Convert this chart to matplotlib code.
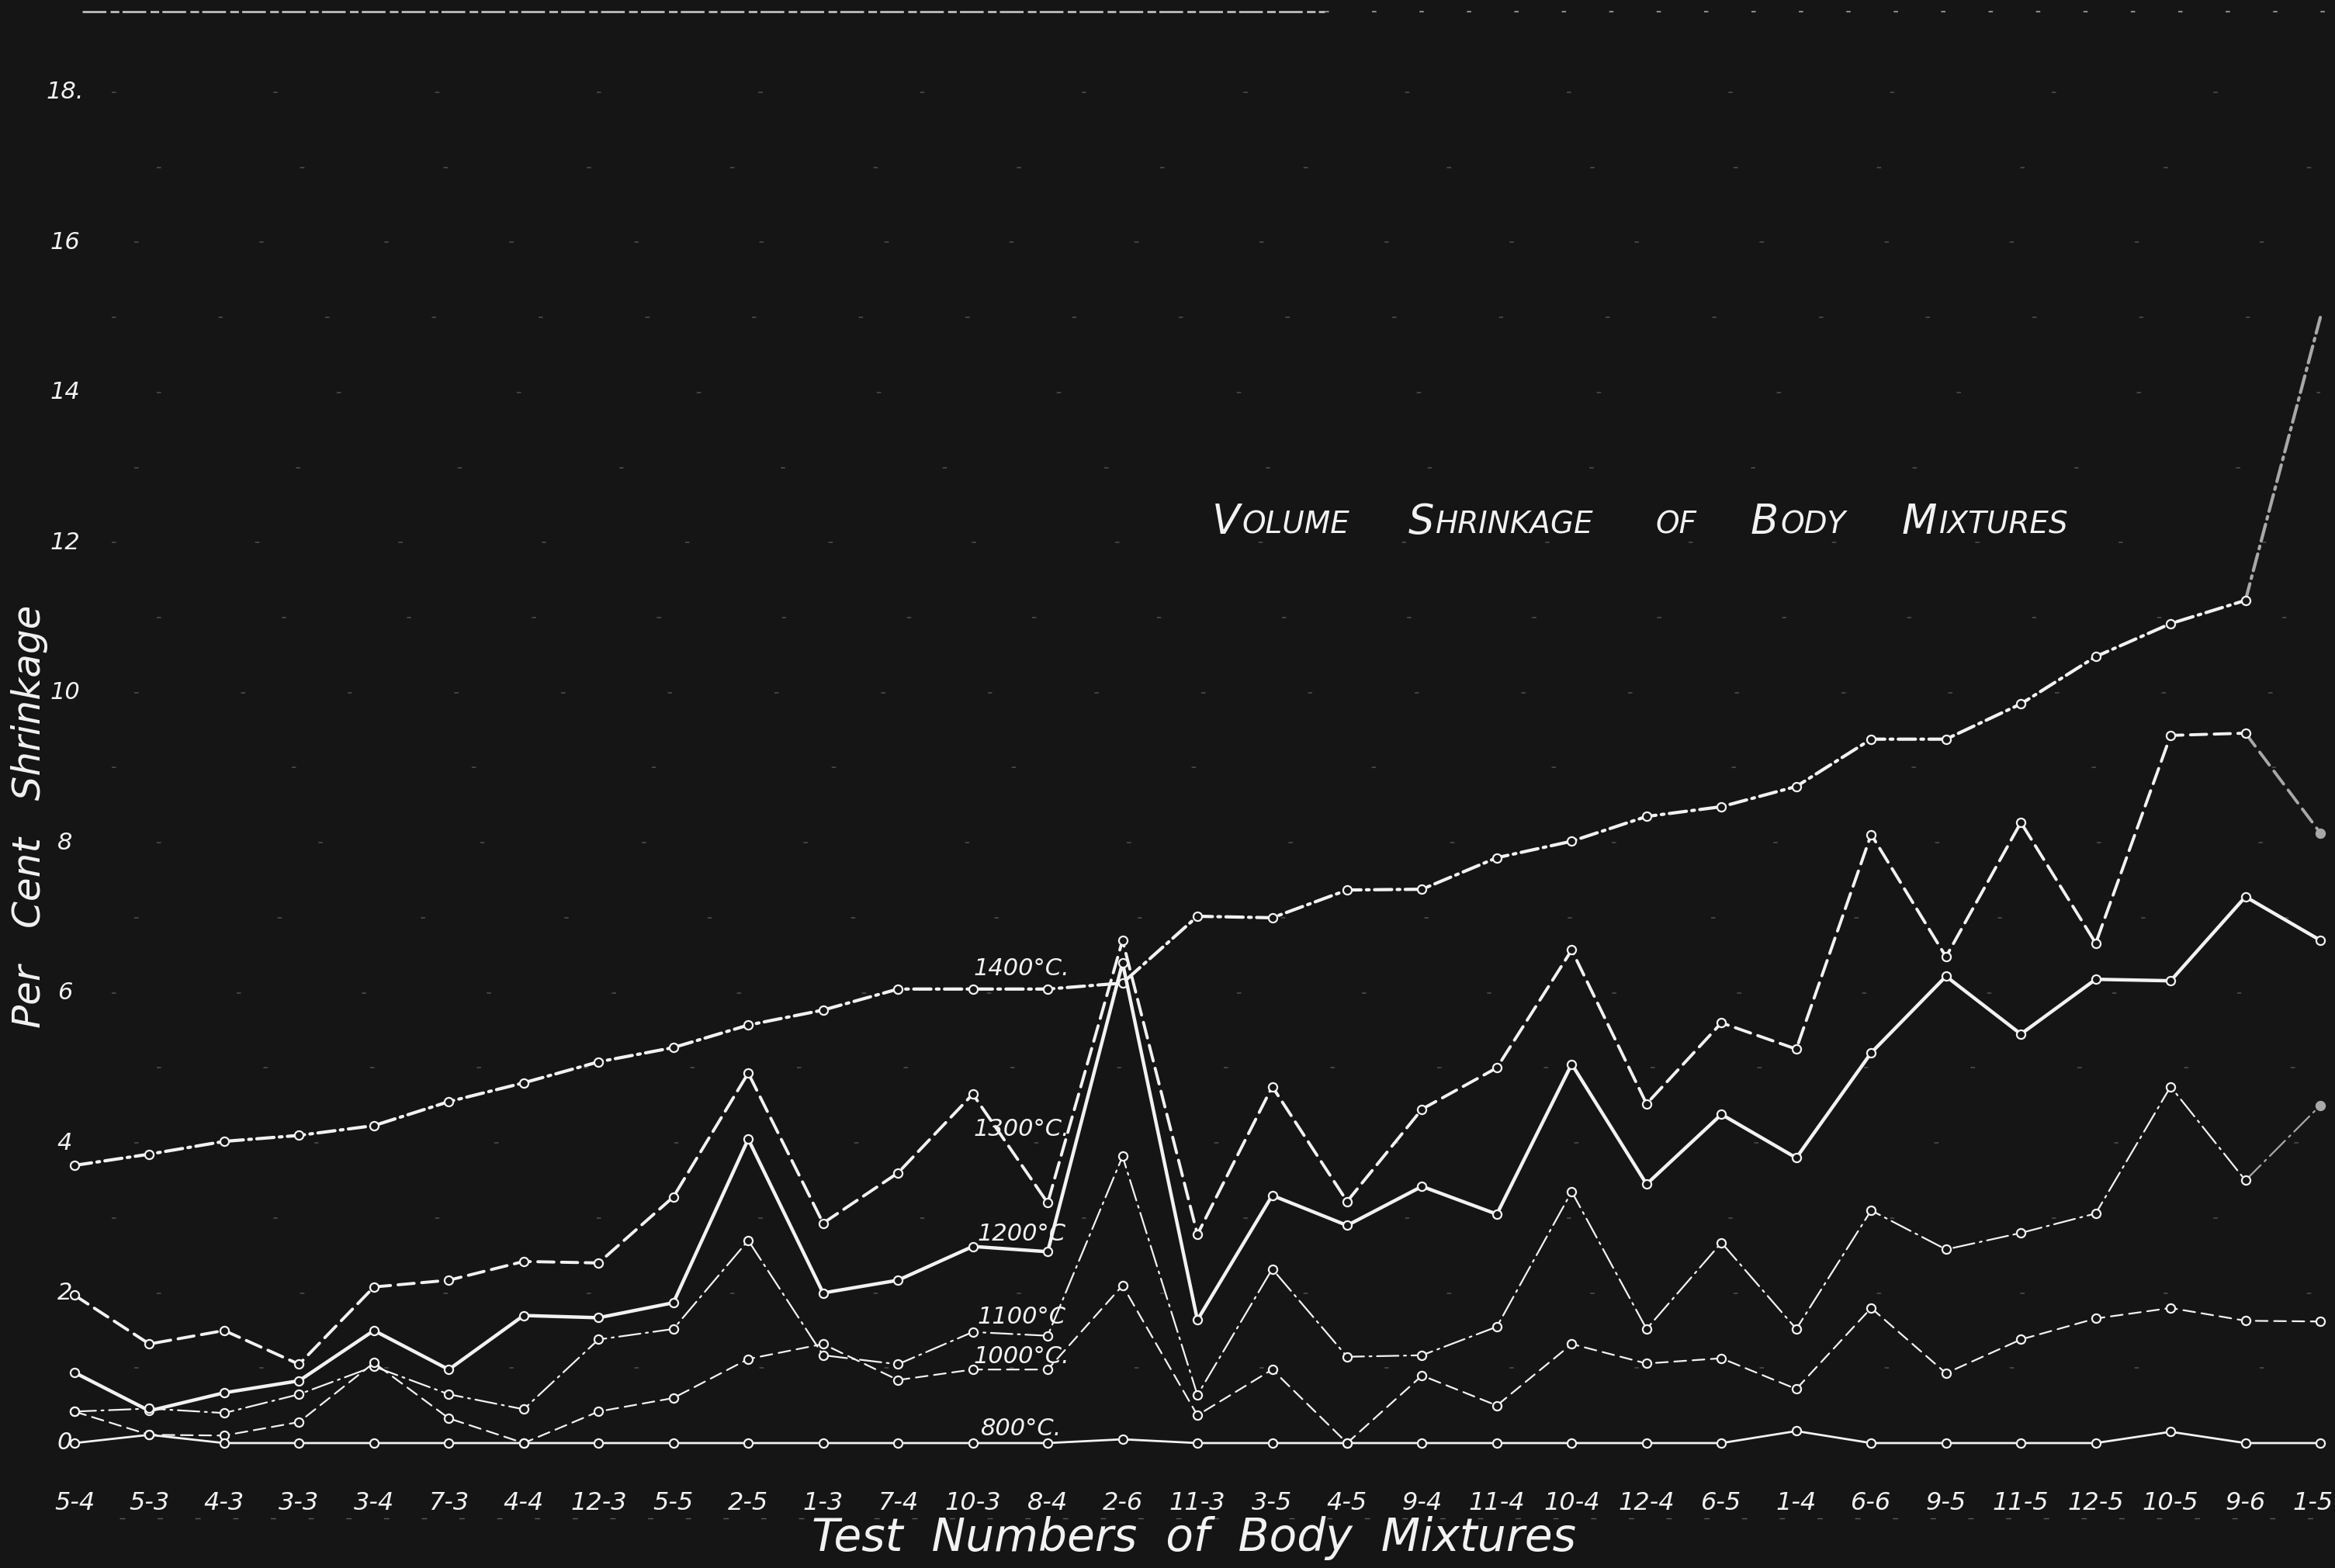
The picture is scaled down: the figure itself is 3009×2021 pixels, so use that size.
import numpy as np
import matplotlib
matplotlib.use('Agg')
import matplotlib.pyplot as plt

plt.rcParams['lines.scale_dashes'] = False

BG = '#151515'
FG = '#f2f2f2'
DIM = '#a8a8a8'

MIXES = ['5-4', '5-3', '4-3', '3-3', '3-4', '7-3', '4-4', '12-3', '5-5', '2-5',
         '1-3', '7-4', '10-3', '8-4', '2-6', '11-3', '3-5', '4-5', '9-4', '11-4',
         '10-4', '12-4', '6-5', '1-4', '6-6', '9-5', '11-5', '12-5', '10-5', '9-6', '1-5']

# per cent volume shrinkage at each firing temperature
S1400 = [3.70, 3.85, 4.02, 4.10, 4.23, 4.55, 4.80, 5.08, 5.27, 5.57, 5.77, 6.05, 6.05, 6.05, 6.13,
         7.02, 7.00, 7.37, 7.38, 7.80, 8.02, 8.35, 8.48, 8.75, 9.38, 9.38, 9.85, 10.48, 10.92, 11.23, 15.0]
S1300 = [1.97, 1.32, 1.50, 1.05, 2.08, 2.17, 2.42, 2.40, 3.28, 4.93, 2.93, 3.60, 4.65, 3.20, 6.70,
         2.78, 4.75, 3.22, 4.45, 5.00, 6.57, 4.52, 5.60, 5.25, 8.11, 6.48, 8.27, 6.66, 9.43, 9.46, 8.13]
S1200 = [0.94, 0.43, 0.67, 0.83, 1.50, 0.98, 1.70, 1.67, 1.87, 4.05, 2.00, 2.17, 2.62, 2.55, 6.40,
         1.64, 3.30, 2.90, 3.42, 3.05, 5.05, 3.45, 4.38, 3.80, 5.20, 6.22, 5.45, 6.18, 6.16, 7.28, 6.70]
S1100 = [0.42, 0.46, 0.40, 0.65, 1.02, 0.65, 0.45, 1.38, 1.52, 2.70, 1.17, 1.05, 1.48, 1.43, 3.82,
         0.64, 2.32, 1.15, 1.17, 1.55, 3.35, 1.52, 2.67, 1.52, 3.10, 2.58, 2.80, 3.06, 4.75, 3.50, 4.50]
S1000 = [0.42, 0.11, 0.10, 0.28, 1.07, 0.33, 0.00, 0.42, 0.60, 1.12, 1.32, 0.84, 0.98, 0.98, 2.10,
         0.37, 0.98, 0.00, 0.90, 0.50, 1.32, 1.06, 1.13, 0.72, 1.80, 0.93, 1.38, 1.66, 1.80, 1.63, 1.62]
S800 = [0.00, 0.11, 0.00, 0.00, 0.00, 0.00, 0.00, 0.00, 0.00, 0.00, 0.00, 0.00, 0.00, 0.00, 0.05,
        0.00, 0.00, 0.00, 0.00, 0.00, 0.00, 0.00, 0.00, 0.16, 0.00, 0.00, 0.00, 0.00, 0.15, 0.00, 0.00]

YTICKS = [0, 2, 4, 6, 8, 10, 12, 14, 16, 18]

# series label text, label height, line style
SERIES = [
    (S1400, '1400°C.', 6.17, dict(lw=3.0, dashes=(16, 5, 2.5, 5))),
    (S1300, '1300°C.', 4.03, dict(lw=2.8, dashes=(15, 7))),
    (S1200, '1200°C', 2.64, dict(lw=3.2)),
    (S1100, '1100°C', 1.53, dict(lw=1.6, dashes=(20, 5, 2, 5))),
    (S1000, '1000°C.', 1.0, dict(lw=1.6, dashes=(11, 6))),
    (S800, '800°C.', 0.04, dict(lw=2.0)),
]
# last segment of these looks faded on the sheet
FADED = {'1400°C.', '1300°C.', '1100°C'}

HAND = dict(family='DejaVu Sans', style='italic', color=FG)

fig = plt.figure(figsize=(30.09, 20.21), dpi=100, facecolor=BG)
ax = fig.add_axes([0, 0, 1, 1])
ax.set_facecolor(BG)
ax.set_xlim(-0.995, 30.196)
ax.set_ylim(-1.665, 19.23)
ax.axis('off')

x = np.arange(len(MIXES))

# remains of the ruled grid
for v in range(1, 19):
    ax.plot([0.5 + 0.3 * (v % 3), 30], [v, v], color='#4c4c4c', lw=1.2,
            dashes=(4, 95 + 17 * (v % 5)), zorder=1)
ax.plot([0.1, 16.7], [19.08, 19.08], color='#bdbdbd', lw=2.0, dashes=(22, 4, 8, 3), zorder=1)
ax.plot([16.7, 30.2], [19.08, 19.08], color='#8a8a8a', lw=1.5, dashes=(4, 40), zorder=1)
ax.plot([0.6, 30.2], [-1.0, -1.0], color='#5a5a5a', lw=1.0, dashes=(5, 30), zorder=1)

for vals, name, ly, style in SERIES:
    v = np.asarray(vals)
    n = len(v) - 1 if name in FADED else len(v)
    ax.plot(x[:n], v[:n], color=FG, solid_capstyle='round', dash_capstyle='round',
            marker='o', ms=8, mfc=BG, mec=FG, mew=1.6, zorder=3, **style)
    if name in FADED:
        ax.plot(x[-2:], v[-2:], color=DIM, dash_capstyle='round', zorder=2, **style)
        if name != '1400°C.':
            ax.plot(x[-1], v[-1], 'o', ms=8, mfc=DIM, mec=DIM, mew=1.6, zorder=3)
    ax.text(12.65, ly, name, fontsize=22, ha='center', va='bottom', zorder=4, **HAND)

# hand lettered axis numbers
for v in YTICKS:
    ax.text(-0.13, v, str(v) + ('.' if v == 18 else ''), fontsize=22, ha='center',
            va='center', **HAND)
for i, m in enumerate(MIXES):
    xi = i - 0.1 if i == len(MIXES) - 1 else i
    ax.text(xi, -0.8, m, fontsize=23, ha='center', va='center', **HAND)

ax.text(14.95, -1.27, 'Test  Numbers  of  Body  Mixtures', fontsize=42, ha='center',
        va='center', **HAND)
ax.text(-0.6, 8.35, 'Per   Cent   Shrinkage', fontsize=36, rotation=90, ha='center',
        va='center', **HAND)

# small-caps style heading, drawn piece by piece; only the word gaps are stretched
renderer = fig.canvas.get_renderer()
pieces = [('V', 38), ('OLUME', 28), ('    ', 28), ('S', 38), ('HRINKAGE', 28), ('    ', 28),
          ('OF', 28), ('    ', 28), ('B', 38), ('ODY', 28), ('    ', 28), ('M', 38), ('IXTURES', 28)]
inv = ax.transData.inverted()
cx = 15.2
for txt, size in pieces:
    t = ax.text(cx, 12.12, txt, fontsize=size, ha='left', va='baseline', **HAND)
    bb = t.get_window_extent(renderer)
    x0 = inv.transform((bb.x0, bb.y0))[0]
    x1 = inv.transform((bb.x1, bb.y0))[0]
    stretch = 1.35 if txt.strip() == '' else 1.06
    cx += (x1 - x0) * stretch

fig.savefig('out.png', dpi=100, facecolor=BG)
